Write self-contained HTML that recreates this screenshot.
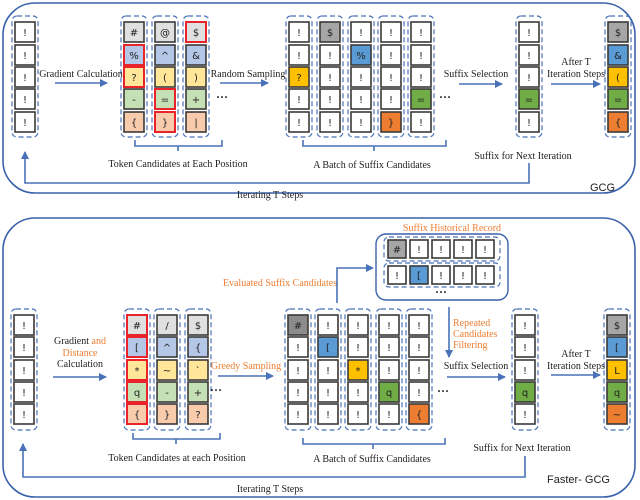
<!DOCTYPE html>
<html><head><meta charset="utf-8"><style>
body{margin:0;background:#fff}
svg{display:block}
.c{stroke:#3a3a3a;stroke-width:1.6}
.t{font-family:"DejaVu Sans","Liberation Sans",sans-serif;font-size:10px;text-anchor:middle;fill:#222}
.w{fill:none;stroke:#4a72b8;stroke-width:1.2;stroke-dasharray:5,3}
.r{stroke:#e8232a;stroke-width:2}
.l{font-family:"Liberation Serif",serif;font-size:10px;fill:#222;text-anchor:middle}
.o{fill:#ed7d31}
.a{stroke:#4a72b8;stroke-width:1.6;fill:none}
</style></head><body>
<svg width="640" height="500" viewBox="0 0 640 500" xmlns="http://www.w3.org/2000/svg">
<defs><marker id="ar" markerWidth="8" markerHeight="8" refX="7" refY="4" orient="auto" markerUnits="userSpaceOnUse"><path d="M0,0 L8,4 L0,8 z" fill="#4a72b8"/></marker></defs>
<rect x="3" y="3" width="632" height="190" rx="32" fill="none" stroke="#3a62aa" stroke-width="1.6"/>
<rect x="3" y="218" width="632" height="279" rx="32" fill="none" stroke="#3a62aa" stroke-width="1.6"/>

<g id="top">
<rect class="w" x="12" y="16" width="26" height="121" rx="5"/>
<rect class="w" x="121" y="16" width="26" height="121" rx="5"/>
<rect class="w" x="152" y="16" width="26" height="121" rx="5"/>
<rect class="w" x="183" y="16" width="26" height="121" rx="5"/>
<rect class="w" x="286" y="16" width="26" height="121" rx="5"/>
<rect class="w" x="317" y="16" width="26" height="121" rx="5"/>
<rect class="w" x="348" y="16" width="26" height="121" rx="5"/>
<rect class="w" x="378" y="16" width="26" height="121" rx="5"/>
<rect class="w" x="408" y="16" width="26" height="121" rx="5"/>
<rect class="w" x="516" y="16" width="26" height="121" rx="5"/>
<rect class="w" x="605" y="16" width="26" height="121" rx="5"/>
<g transform="translate(15,0)">
<rect class="c" y="22" width="20" height="20" fill="#fff"/><text class="t" x="10" y="36">!</text>
<rect class="c" y="45" width="20" height="20" fill="#fff"/><text class="t" x="10" y="59">!</text>
<rect class="c" y="67" width="20" height="20" fill="#fff"/><text class="t" x="10" y="81">!</text>
<rect class="c" y="89" width="20" height="20" fill="#fff"/><text class="t" x="10" y="103">!</text>
<rect class="c" y="112" width="20" height="20" fill="#fff"/><text class="t" x="10" y="126">!</text>
</g>
<g transform="translate(124,0)">
<rect class="c" y="22" width="20" height="20" fill="#e0e0e0"/><text class="t" x="10" y="36">#</text>
<rect class="c r" y="45" width="20" height="20" fill="#b4c7e7"/><text class="t" x="10" y="59">%</text>
<rect class="c r" y="67" width="20" height="20" fill="#ffe699"/><text class="t" x="10" y="81">?</text>
<rect class="c" y="89" width="20" height="20" fill="#c5e0b4"/><text class="t" x="10" y="103">-</text>
<rect class="c" y="112" width="20" height="20" fill="#f8cbad"/><text class="t" x="10" y="126">{</text>
</g>
<g transform="translate(155,0)">
<rect class="c" y="22" width="20" height="20" fill="#e0e0e0"/><text class="t" x="10" y="36">@</text>
<rect class="c" y="45" width="20" height="20" fill="#b4c7e7"/><text class="t" x="10" y="59">^</text>
<rect class="c" y="67" width="20" height="20" fill="#ffe699"/><text class="t" x="10" y="81">(</text>
<rect class="c r" y="89" width="20" height="20" fill="#c5e0b4"/><text class="t" x="10" y="103">=</text>
<rect class="c r" y="112" width="20" height="20" fill="#f8cbad"/><text class="t" x="10" y="126">}</text>
</g>
<g transform="translate(186,0)">
<rect class="c r" y="22" width="20" height="20" fill="#e0e0e0"/><text class="t" x="10" y="36">$</text>
<rect class="c" y="45" width="20" height="20" fill="#b4c7e7"/><text class="t" x="10" y="59">&amp;</text>
<rect class="c" y="67" width="20" height="20" fill="#ffe699"/><text class="t" x="10" y="81">)</text>
<rect class="c" y="89" width="20" height="20" fill="#c5e0b4"/><text class="t" x="10" y="103">+</text>
<rect class="c" y="112" width="20" height="20" fill="#f8cbad"/><text class="t" x="10" y="126">|</text>
</g>
<g transform="translate(289,0)">
<rect class="c" y="22" width="20" height="20" fill="#fff"/><text class="t" x="10" y="36">!</text>
<rect class="c" y="45" width="20" height="20" fill="#fff"/><text class="t" x="10" y="59">!</text>
<rect class="c" y="67" width="20" height="20" fill="#ffc000"/><text class="t" x="10" y="81">?</text>
<rect class="c" y="89" width="20" height="20" fill="#fff"/><text class="t" x="10" y="103">!</text>
<rect class="c" y="112" width="20" height="20" fill="#fff"/><text class="t" x="10" y="126">!</text>
</g>
<g transform="translate(320,0)">
<rect class="c" y="22" width="20" height="20" fill="#a6a6a6"/><text class="t" x="10" y="36">$</text>
<rect class="c" y="45" width="20" height="20" fill="#fff"/><text class="t" x="10" y="59">!</text>
<rect class="c" y="67" width="20" height="20" fill="#fff"/><text class="t" x="10" y="81">!</text>
<rect class="c" y="89" width="20" height="20" fill="#fff"/><text class="t" x="10" y="103">!</text>
<rect class="c" y="112" width="20" height="20" fill="#fff"/><text class="t" x="10" y="126">!</text>
</g>
<g transform="translate(351,0)">
<rect class="c" y="22" width="20" height="20" fill="#fff"/><text class="t" x="10" y="36">!</text>
<rect class="c" y="45" width="20" height="20" fill="#5b9bd5"/><text class="t" x="10" y="59">%</text>
<rect class="c" y="67" width="20" height="20" fill="#fff"/><text class="t" x="10" y="81">!</text>
<rect class="c" y="89" width="20" height="20" fill="#fff"/><text class="t" x="10" y="103">!</text>
<rect class="c" y="112" width="20" height="20" fill="#fff"/><text class="t" x="10" y="126">!</text>
</g>
<g transform="translate(381,0)">
<rect class="c" y="22" width="20" height="20" fill="#fff"/><text class="t" x="10" y="36">!</text>
<rect class="c" y="45" width="20" height="20" fill="#fff"/><text class="t" x="10" y="59">!</text>
<rect class="c" y="67" width="20" height="20" fill="#fff"/><text class="t" x="10" y="81">!</text>
<rect class="c" y="89" width="20" height="20" fill="#fff"/><text class="t" x="10" y="103">!</text>
<rect class="c" y="112" width="20" height="20" fill="#ed7d31"/><text class="t" x="10" y="126">}</text>
</g>
<g transform="translate(411,0)">
<rect class="c" y="22" width="20" height="20" fill="#fff"/><text class="t" x="10" y="36">!</text>
<rect class="c" y="45" width="20" height="20" fill="#fff"/><text class="t" x="10" y="59">!</text>
<rect class="c" y="67" width="20" height="20" fill="#fff"/><text class="t" x="10" y="81">!</text>
<rect class="c" y="89" width="20" height="20" fill="#70ad47"/><text class="t" x="10" y="103">=</text>
<rect class="c" y="112" width="20" height="20" fill="#fff"/><text class="t" x="10" y="126">!</text>
</g>
<g transform="translate(519,0)">
<rect class="c" y="22" width="20" height="20" fill="#fff"/><text class="t" x="10" y="36">!</text>
<rect class="c" y="45" width="20" height="20" fill="#fff"/><text class="t" x="10" y="59">!</text>
<rect class="c" y="67" width="20" height="20" fill="#fff"/><text class="t" x="10" y="81">!</text>
<rect class="c" y="89" width="20" height="20" fill="#70ad47"/><text class="t" x="10" y="103">=</text>
<rect class="c" y="112" width="20" height="20" fill="#fff"/><text class="t" x="10" y="126">!</text>
</g>
<g transform="translate(608,0)">
<rect class="c" y="22" width="20" height="20" fill="#a6a6a6"/><text class="t" x="10" y="36">$</text>
<rect class="c" y="45" width="20" height="20" fill="#5b9bd5"/><text class="t" x="10" y="59">&amp;</text>
<rect class="c" y="67" width="20" height="20" fill="#ffc000"/><text class="t" x="10" y="81">(</text>
<rect class="c" y="89" width="20" height="20" fill="#70ad47"/><text class="t" x="10" y="103">=</text>
<rect class="c" y="112" width="20" height="20" fill="#ed7d31"/><text class="t" x="10" y="126">{</text>
</g>
<text class="l" x="81" y="77">Gradient Calculation</text>
<line class="a" x1="55" y1="83" x2="107" y2="83" marker-end="url(#ar)"/>
<text class="l" x="248" y="77">Random Sampling</text>
<line class="a" x1="220" y1="83" x2="268" y2="83" marker-end="url(#ar)"/>
<text class="l" x="222" y="101" style="font-size:12px;font-weight:bold">···</text>
<text class="l" x="445" y="101" style="font-size:12px;font-weight:bold">···</text>
<text class="l" x="476" y="77">Suffix Selection</text>
<line class="a" x1="459" y1="84" x2="502" y2="84" marker-end="url(#ar)"/>
<text class="l" x="576" y="65">After T</text>
<text class="l" x="576" y="77">Iteration Steps</text>
<line class="a" x1="551" y1="84" x2="600" y2="84" marker-end="url(#ar)"/>
<path class="a" d="M135,140 v6 h43 v5 M178,146 h44 v-6" />
<text class="l" x="178" y="167">Token Candidates at Each Position</text>
<path class="a" d="M303,140 v6 h71 v5 M374,146 h72 v-6" />
<text class="l" x="372" y="168">A Batch of Suffix Candidates</text>
<text class="l" x="523" y="159">Suffix for Next Iteration</text>
<path class="a" d="M529,163 V183 H25 V152" marker-end="url(#ar)"/>
<text class="l" x="270" y="198">Iterating T Steps</text>
<text x="590" y="191" style="font-family:'Liberation Sans',sans-serif;font-size:11px;fill:#222">GCG</text>
</g>

<rect class="w" x="11" y="309" width="26" height="121" rx="5"/>
<rect class="w" x="124" y="309" width="26" height="121" rx="5"/>
<rect class="w" x="154" y="309" width="26" height="121" rx="5"/>
<rect class="w" x="185" y="309" width="26" height="121" rx="5"/>
<rect class="w" x="285" y="309" width="26" height="121" rx="5"/>
<rect class="w" x="315" y="309" width="26" height="121" rx="5"/>
<rect class="w" x="345" y="309" width="26" height="121" rx="5"/>
<rect class="w" x="376" y="309" width="26" height="121" rx="5"/>
<rect class="w" x="406" y="309" width="26" height="121" rx="5"/>
<rect class="w" x="512" y="309" width="26" height="121" rx="5"/>
<rect class="w" x="604" y="309" width="26" height="121" rx="5"/>
<g transform="translate(14,0)">
<rect class="c" y="315" width="20" height="20" fill="#fff"/><text class="t" x="10" y="329">!</text>
<rect class="c" y="337" width="20" height="20" fill="#fff"/><text class="t" x="10" y="351">!</text>
<rect class="c" y="360" width="20" height="20" fill="#fff"/><text class="t" x="10" y="374">!</text>
<rect class="c" y="382" width="20" height="20" fill="#fff"/><text class="t" x="10" y="396">!</text>
<rect class="c" y="404" width="20" height="20" fill="#fff"/><text class="t" x="10" y="418">!</text>
</g>
<g transform="translate(127,0)">
<rect class="c r" y="315" width="20" height="20" fill="#e0e0e0"/><text class="t" x="10" y="329">#</text>
<rect class="c r" y="337" width="20" height="20" fill="#b4c7e7"/><text class="t" x="10" y="351">[</text>
<rect class="c r" y="360" width="20" height="20" fill="#ffe699"/><text class="t" x="10" y="374">*</text>
<rect class="c r" y="382" width="20" height="20" fill="#c5e0b4"/><text class="t" x="10" y="396">q</text>
<rect class="c r" y="404" width="20" height="20" fill="#f8cbad"/><text class="t" x="10" y="418">{</text>
</g>
<g transform="translate(157,0)">
<rect class="c" y="315" width="20" height="20" fill="#e0e0e0"/><text class="t" x="10" y="329">/</text>
<rect class="c" y="337" width="20" height="20" fill="#b4c7e7"/><text class="t" x="10" y="351">^</text>
<rect class="c" y="360" width="20" height="20" fill="#ffe699"/><text class="t" x="10" y="374">~</text>
<rect class="c" y="382" width="20" height="20" fill="#c5e0b4"/><text class="t" x="10" y="396">-</text>
<rect class="c" y="404" width="20" height="20" fill="#f8cbad"/><text class="t" x="10" y="418">}</text>
</g>
<g transform="translate(188,0)">
<rect class="c" y="315" width="20" height="20" fill="#e0e0e0"/><text class="t" x="10" y="329">$</text>
<rect class="c" y="337" width="20" height="20" fill="#b4c7e7"/><text class="t" x="10" y="351">{</text>
<rect class="c" y="360" width="20" height="20" fill="#ffe699"/><text class="t" x="10" y="374">`</text>
<rect class="c" y="382" width="20" height="20" fill="#c5e0b4"/><text class="t" x="10" y="396">+</text>
<rect class="c" y="404" width="20" height="20" fill="#f8cbad"/><text class="t" x="10" y="418">?</text>
</g>
<g transform="translate(288,0)">
<rect class="c" y="315" width="20" height="20" fill="#8c8c8c"/><text class="t" x="10" y="329">#</text>
<rect class="c" y="337" width="20" height="20" fill="#fff"/><text class="t" x="10" y="351">!</text>
<rect class="c" y="360" width="20" height="20" fill="#fff"/><text class="t" x="10" y="374">!</text>
<rect class="c" y="382" width="20" height="20" fill="#fff"/><text class="t" x="10" y="396">!</text>
<rect class="c" y="404" width="20" height="20" fill="#fff"/><text class="t" x="10" y="418">!</text>
</g>
<g transform="translate(318,0)">
<rect class="c" y="315" width="20" height="20" fill="#fff"/><text class="t" x="10" y="329">!</text>
<rect class="c" y="337" width="20" height="20" fill="#5b9bd5"/><text class="t" x="10" y="351">[</text>
<rect class="c" y="360" width="20" height="20" fill="#fff"/><text class="t" x="10" y="374">!</text>
<rect class="c" y="382" width="20" height="20" fill="#fff"/><text class="t" x="10" y="396">!</text>
<rect class="c" y="404" width="20" height="20" fill="#fff"/><text class="t" x="10" y="418">!</text>
</g>
<g transform="translate(348,0)">
<rect class="c" y="315" width="20" height="20" fill="#fff"/><text class="t" x="10" y="329">!</text>
<rect class="c" y="337" width="20" height="20" fill="#fff"/><text class="t" x="10" y="351">!</text>
<rect class="c" y="360" width="20" height="20" fill="#ffc000"/><text class="t" x="10" y="374">*</text>
<rect class="c" y="382" width="20" height="20" fill="#fff"/><text class="t" x="10" y="396">!</text>
<rect class="c" y="404" width="20" height="20" fill="#fff"/><text class="t" x="10" y="418">!</text>
</g>
<g transform="translate(379,0)">
<rect class="c" y="315" width="20" height="20" fill="#fff"/><text class="t" x="10" y="329">!</text>
<rect class="c" y="337" width="20" height="20" fill="#fff"/><text class="t" x="10" y="351">!</text>
<rect class="c" y="360" width="20" height="20" fill="#fff"/><text class="t" x="10" y="374">!</text>
<rect class="c" y="382" width="20" height="20" fill="#70ad47"/><text class="t" x="10" y="396">q</text>
<rect class="c" y="404" width="20" height="20" fill="#fff"/><text class="t" x="10" y="418">!</text>
</g>
<g transform="translate(409,0)">
<rect class="c" y="315" width="20" height="20" fill="#fff"/><text class="t" x="10" y="329">!</text>
<rect class="c" y="337" width="20" height="20" fill="#fff"/><text class="t" x="10" y="351">!</text>
<rect class="c" y="360" width="20" height="20" fill="#fff"/><text class="t" x="10" y="374">!</text>
<rect class="c" y="382" width="20" height="20" fill="#fff"/><text class="t" x="10" y="396">!</text>
<rect class="c" y="404" width="20" height="20" fill="#ed7d31"/><text class="t" x="10" y="418">{</text>
</g>
<g transform="translate(515,0)">
<rect class="c" y="315" width="20" height="20" fill="#fff"/><text class="t" x="10" y="329">!</text>
<rect class="c" y="337" width="20" height="20" fill="#fff"/><text class="t" x="10" y="351">!</text>
<rect class="c" y="360" width="20" height="20" fill="#fff"/><text class="t" x="10" y="374">!</text>
<rect class="c" y="382" width="20" height="20" fill="#70ad47"/><text class="t" x="10" y="396">q</text>
<rect class="c" y="404" width="20" height="20" fill="#fff"/><text class="t" x="10" y="418">!</text>
</g>
<g transform="translate(607,0)">
<rect class="c" y="315" width="20" height="20" fill="#a6a6a6"/><text class="t" x="10" y="329">$</text>
<rect class="c" y="337" width="20" height="20" fill="#5b9bd5"/><text class="t" x="10" y="351">[</text>
<rect class="c" y="360" width="20" height="20" fill="#ffc000"/><text class="t" x="10" y="374">L</text>
<rect class="c" y="382" width="20" height="20" fill="#70ad47"/><text class="t" x="10" y="396">q</text>
<rect class="c" y="404" width="20" height="20" fill="#ed7d31"/><text class="t" x="10" y="418">~</text>
</g>
<text class="l o" x="452" y="231">Suffix Historical Record</text>
<rect x="376" y="234" width="132" height="66" rx="10" fill="none" stroke="#3a62aa" stroke-width="1.4"/>
<rect class="w" x="384" y="237" width="116" height="24" rx="5"/>
<rect class="w" x="384" y="263" width="116" height="24" rx="5"/>
<g transform="translate(0,240)">
<rect class="c" x="388" width="18" height="18" fill="#a6a6a6"/><text class="t" x="397" y="13">#</text>
<rect class="c" x="410" width="18" height="18" fill="#fff"/><text class="t" x="419" y="13">!</text>
<rect class="c" x="432" width="18" height="18" fill="#fff"/><text class="t" x="441" y="13">!</text>
<rect class="c" x="454" width="18" height="18" fill="#fff"/><text class="t" x="463" y="13">!</text>
<rect class="c" x="476" width="18" height="18" fill="#fff"/><text class="t" x="485" y="13">!</text>
</g>
<g transform="translate(0,266)">
<rect class="c" x="388" width="18" height="18" fill="#fff"/><text class="t" x="397" y="13">!</text>
<rect class="c" x="410" width="18" height="18" fill="#5b9bd5"/><text class="t" x="419" y="13">[</text>
<rect class="c" x="432" width="18" height="18" fill="#fff"/><text class="t" x="441" y="13">!</text>
<rect class="c" x="454" width="18" height="18" fill="#fff"/><text class="t" x="463" y="13">!</text>
<rect class="c" x="476" width="18" height="18" fill="#fff"/><text class="t" x="485" y="13">!</text>
</g>
<text class="l" x="441" y="296" style="font-size:12px;font-weight:bold">···</text>

<text class="l o" x="280" y="286">Evaluated Suffix Candidates</text>
<path class="a" d="M337,303 V268 H373" marker-end="url(#ar)"/>
<line class="a" x1="449" y1="307" x2="449" y2="357" marker-end="url(#ar)"/>
<text class="l o" x="453" y="326" style="text-anchor:start">Repeated</text>
<text class="l o" x="453" y="337" style="text-anchor:start">Candidates</text>
<text class="l o" x="453" y="348" style="text-anchor:start">Filtering</text>
<text class="l" x="476" y="369">Suffix Selection</text>
<line class="a" x1="447" y1="377" x2="505" y2="377" marker-end="url(#ar)"/>
<text class="l" x="576" y="357">After T</text>
<text class="l" x="576" y="369">Iteration Steps</text>
<line class="a" x1="551" y1="375" x2="600" y2="375" marker-end="url(#ar)"/>

<text class="l" x="80" y="344">Gradient <tspan class="o">and</tspan></text>
<text class="l o" x="80" y="356">Distance</text>
<text class="l" x="80" y="367">Calculation</text>
<line class="a" x1="53" y1="377" x2="106" y2="377" marker-end="url(#ar)"/>
<text class="l o" x="246" y="369">Greedy Sampling</text>
<line class="a" x1="218" y1="376" x2="273" y2="376" marker-end="url(#ar)"/>
<text class="l" x="216" y="394" style="font-size:12px;font-weight:bold">···</text>
<text class="l" x="443" y="395" style="font-size:12px;font-weight:bold">···</text>
<path class="a" d="M133,433 v6 h43 v5 M176,439 h44 v-6" />
<text class="l" x="177" y="461">Token Candidates at each Position</text>
<path class="a" d="M303,438 v6 h70 v5 M373,444 h72 v-6" />
<text class="l" x="372" y="462">A Batch of Suffix Candidates</text>
<text class="l" x="522" y="451">Suffix for Next Iteration</text>
<path class="a" d="M525,456 V477 H23 V444" marker-end="url(#ar)"/>
<text class="l" x="270" y="492">Iterating T Steps</text>
<text x="547" y="483" style="font-family:'Liberation Sans',sans-serif;font-size:11px;fill:#222">Faster- GCG</text>
</svg>
</body></html>
